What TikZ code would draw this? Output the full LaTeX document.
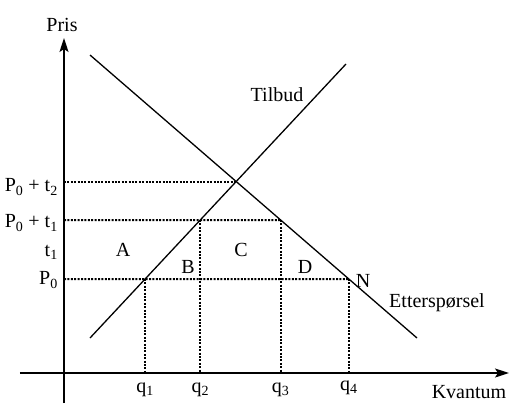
\documentclass[tikz,border=0pt]{standalone}
\usepackage{fontspec}
\setmainfont{Liberation Serif}
\usetikzlibrary{arrows.meta, positioning, calc}
\tikzstyle{axis} = [line width=1.6pt, -{Stealth[length=14pt, width=9pt, inset=3pt]}]
\tikzstyle{curve} = [line width=1.3pt]
\tikzstyle{guide} = [line width=2pt, dash pattern=on 2pt off 1.4pt]
\tikzstyle{lbl} = [inner sep=0pt, font=\fontsize{20}{24}\selectfont]

\begin{document}
\begin{tikzpicture}[x=1pt, y=1pt]
        \useasboundingbox (-64,-32) rectangle (446,373);
        \coordinate (O) at (0,0);

        % Supply and demand
        \coordinate (s1) at (26,35);
        \coordinate (s2) at (282,309);
        \coordinate (d1) at (26,318);
        \coordinate (d2) at (353,35);
        \coordinate (E) at (intersection of s1--s2 and d1--d2);

        % Price levels
        \coordinate (p0) at (0,94);
        \coordinate (p1) at (0,153);
        \coordinate (p2) at (O |- E);
        \coordinate (Q1) at (intersection of s1--s2 and 0,94--100,94);
        \coordinate (Q2) at (intersection of s1--s2 and 0,153--100,153);
        \coordinate (Q3) at (intersection of d1--d2 and 0,153--100,153);
        \coordinate (Q4) at (intersection of d1--d2 and 0,94--100,94);
        \coordinate (q1) at (Q1 |- O);
        \coordinate (q2) at (Q2 |- O);
        \coordinate (q3) at (Q3 |- O);
        \coordinate (q4) at (Q4 |- O);

        % Dotted guides
        \draw [guide] (p2) -- (E);
        \draw [guide] (p1) -- (Q3);
        \draw [guide] (p0) -- (Q4);
        \draw [guide] (Q1) -- (q1);
        \draw [guide] (Q2) -- (q2);
        \draw [guide] (Q3) -- (q3);
        \draw [guide] (Q4) -- (q4);

        % Axes
        \draw [axis] (-44,0) -- (445,0);
        \draw [axis] (0,-30) -- (0,335);
        \draw [curve] (s1) -- (s2);
        \draw [curve] (d1) -- (d2);

        % Labels
        \node (pris) [lbl] at (-2,348) {Pris};
        \node (kvant) [lbl] at (405,-19) {Kvantum};
        \node (tilbud) [lbl] at (213,278) {Tilbud};
        \node (ettersp) [lbl] at (373,70) {Etterspørsel};
        \node (n) [lbl] at (299,92) {N};
        \node (a) [lbl] at (59,123) {A};
        \node (b) [lbl] at (124,106) {B};
        \node (c) [lbl] at (177,123) {C};
        \node (d) [lbl] at (241,106) {D};
        \node (lp2) [lbl, anchor=east] at (-6,186) {P\textsubscript{0} + t\textsubscript{2}};
        \node (lp1) [lbl, anchor=east] at (-6,150) {P\textsubscript{0} + t\textsubscript{1}};
        \node (lt1) [lbl, anchor=east] at (-6,121) {t\textsubscript{1}};
        \node (lp0) [lbl, anchor=east] at (-6,93) {P\textsubscript{0}};
        \node (lq1) [lbl, below=10pt of q1] {q\textsubscript{1}};
        \node (lq2) [lbl, below=10pt of q2] {q\textsubscript{2}};
        \node (lq3) [lbl, below=10pt of q3] {q\textsubscript{3}};
        \node (lq4) [lbl, below=8pt of q4] {q\textsubscript{4}};
\end{tikzpicture}
\end{document}
